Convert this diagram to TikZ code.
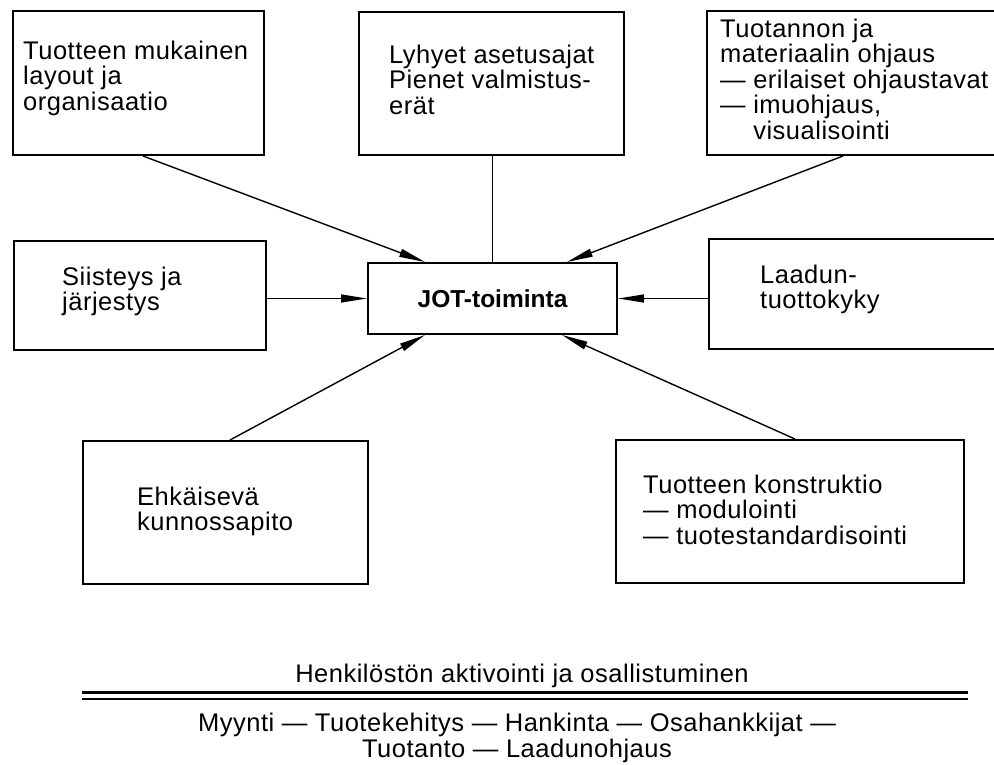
\documentclass[tikz,border=0pt]{standalone}
\usepackage{fontspec}
\usetikzlibrary{arrows.meta,calc}
\newfontfamily\labelfont{Liberation Sans}[LetterSpace=2]
\newfontfamily\headfont{Liberation Sans}

\tikzset{
  box/.style={draw, line width=2pt, inner sep=0pt, anchor=north west},
  txt/.style={inner sep=0pt, anchor=north west, align=left,
              font=\labelfont\fontsize{25.5}{25.5}\selectfont},
  link/.style={line width=1.4pt},
  arr/.style={link, -{Triangle[length=26pt,width=8pt]}},
  rule/.style={line cap=butt},
}

\begin{document}
\begin{tikzpicture}[x=1pt,y=-1pt]
  \clip (0,0) rectangle (994,765);
  \fill[white] (0,0) rectangle (994,765);

  % surrounding boxes
  \node[box, minimum width=251pt, minimum height=144pt] (b1) at (12,10) {};
  \node[box, minimum width=265pt, minimum height=143pt] (b2) at (358,11) {};
  \node[box, minimum width=300pt, minimum height=144pt] (b3) at (706,10) {};
  \node[box, minimum width=252pt, minimum height=109pt] (b4) at (13,240) {};
  \node[box, minimum width=300pt, minimum height=110pt] (b5) at (708,238) {};
  \node[box, minimum width=285pt, minimum height=143pt] (b6) at (82,440) {};
  \node[box, minimum width=348pt, minimum height=143pt] (b7) at (615,439) {};

  % central box
  \node[box, minimum width=249pt, minimum height=71pt,
        font=\headfont\bfseries\fontsize{24.5}{25.5}\selectfont] (jot) at (367,262) {JOT-toiminta};

  % box texts
  \node[txt] (t1) at (23,40.5) {Tuotteen mukainen\\layout ja\\organisaatio};
  \node[txt] (t2) at (389,44.5) {Lyhyet asetusajat\\Pienet valmistus-\\erät};
  \node[txt] (t3) at (720,18.5) {Tuotannon ja\\materiaalin ohjaus\\— erilaiset ohjaustavat\\— imuohjaus,\\\phantom{— }visualisointi};
  \node[txt] (t4) at (62,266.5) {Siisteys ja\\järjestys};
  \node[txt] (t5) at (760,264.5) {Laadun-\\tuottokyky};
  \node[txt] (t6) at (137,486.5) {Ehkäisevä\\kunnossapito};
  \node[txt] (t7) at (643,474.5) {Tuotteen konstruktio\\— modulointi\\— tuotestandardisointi};

  % connectors
  \draw[arr] ($(b1.south west)+(131,0)$) -- ($(jot.north west)+(58,0)$);
  \draw[link] (jot.north |- b2.south) -- (jot.north);
  \draw[arr] ($(b3.south west)+(137,0)$) -- ($(jot.north west)+(200,0)$);
  \draw[arr] (b4.east |- jot.west) -- (jot.west);
  \draw[arr] (b5.west |- jot.east) -- (jot.east);
  \draw[arr] ($(b6.north west)+(148,0)$) -- ($(jot.south west)+(58,0)$);
  \draw[arr] ($(b7.north west)+(180,0)$) -- ($(jot.south west)+(195,0)$);

  % foundation
  \node[inner sep=0pt, anchor=base, font=\labelfont\fontsize{25.5}{27}\selectfont]
    (base) at (522,682) {Henkilöstön aktivointi ja osallistuminen};
  \draw[rule, line width=3pt] (82,692) -- (968,692);
  \draw[rule, line width=2.2pt] (82,699) -- (968,699);
  \node[inner sep=0pt, anchor=north, align=center,
        font=\labelfont\fontsize{25.5}{26}\selectfont]
    (func) at (517,713) {Myynti — Tuotekehitys — Hankinta — Osahankkijat —\\Tuotanto — Laadunohjaus};
\end{tikzpicture}
\end{document}
